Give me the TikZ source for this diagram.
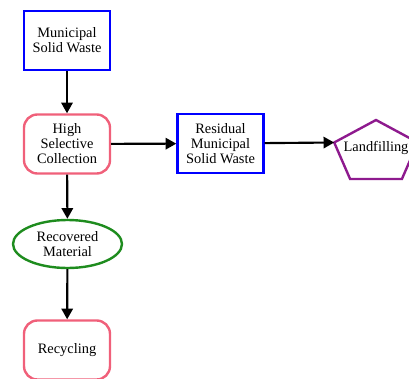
\documentclass[tikz,border=0pt]{standalone}
\usepackage{fontspec}
\setmainfont{Liberation Serif}
\newfontfamily\diagfont{Liberation Serif}
\usetikzlibrary{positioning,arrows.meta,shapes.geometric}
\definecolor{wasteblue}{HTML}{0000FF}
\definecolor{procpink}{HTML}{F0607A}
\definecolor{matgreen}{HTML}{1E8C1E}
\definecolor{landpurple}{HTML}{8E1A8E}
\tikzset{
  % --- waste streams (square boxes) ---
  waste/.style={draw=wasteblue, line width=1.8pt, fill=white, align=center,
                minimum width=64.5pt, minimum height=44.25pt, inner sep=2pt},
  % --- treatment steps (rounded boxes) ---
  process/.style={waste, draw=procpink, rounded corners=10pt},
  % --- recovered output ---
  material/.style={ellipse, draw=matgreen, line width=1.8pt, fill=white,
                   align=center, minimum width=81.75pt, minimum height=36pt,
                   inner sep=0pt},
  % --- final disposal ---
  disposal/.style={draw=landpurple, line width=1.8pt, line join=miter},
  flow/.style={-{Triangle[length=8pt,width=8.5pt]}, line width=1.6pt},
}

\begin{document}
\begin{tikzpicture}[x=0.75pt, y=-0.75pt, font=\diagfont\fontsize{10.8}{11.3}\selectfont]
  \clip (0,0) rectangle (409,378);

  % --- collection chain on the left ---
  \node[waste]    (msw) at (67,40.5)  {Municipal\\Solid Waste};
  \node[process]  (hsc) at (67,144)   {High\\Selective\\Collection};
  \node[material] (rm)  at (67.5,244) {Recovered\\Material};
  \node[process]  (rec) at (67,350)   {Recycling};

  % --- residual stream to the right ---
  \node[waste] (rmsw) at (220.5,143.5) {Residual\\Municipal\\Solid Waste};

  % landfill pentagon (stretched sideways, runs off the edge)
  \draw[disposal] (376,120) -- (417.8,142.5) -- (401.9,179)
        -- (350.1,179) -- (334.2,142.5) -- cycle;
  \coordinate (lfwest) at (334.2,142.5);
  \node[inner sep=0pt] (land) at (376,148) {Landfilling};

  % --- flows ---
  \draw[flow] (msw)  -- (hsc);
  \draw[flow] (hsc)  -- (rm);
  \draw[flow] (rm)   -- (rec);
  \draw[flow] (hsc)  -- (rmsw);
  \draw[flow] (rmsw) -- (lfwest);
\end{tikzpicture}
\end{document}
